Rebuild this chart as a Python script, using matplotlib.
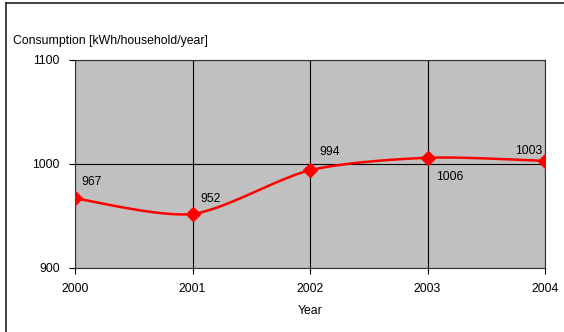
import numpy as np
import matplotlib.pyplot as plt
from matplotlib.lines import Line2D

plt.rcParams['font.family'] = ['Liberation Sans', 'DejaVu Sans']
plt.rcParams['font.size'] = 8.8

years = [2000, 2001, 2002, 2003, 2004]
consumption = [967, 952, 994, 1006, 1003]
# where each value label sits relative to its point (points)
label_offsets = [(12, 12), (13, 11), (14, 13), (16, -14), (-12, 7)]


def smooth(x, y, n=30, tension=0.8):
    # cardinal spline through the points, similar to spreadsheet smoothed lines
    x = np.asarray(x, float)
    y = np.asarray(y, float)
    px = np.concatenate([[x[0]], x, [x[-1]]])
    py = np.concatenate([[y[0]], y, [y[-1]]])
    xs, ys = [], []
    t = np.linspace(0, 1, n)
    h00 = 2 * t ** 3 - 3 * t ** 2 + 1
    h10 = t ** 3 - 2 * t ** 2 + t
    h01 = -2 * t ** 3 + 3 * t ** 2
    h11 = t ** 3 - t ** 2
    for i in range(1, len(px) - 2):
        for p, out in ((px, xs), (py, ys)):
            m1 = tension * 0.5 * (p[i + 1] - p[i - 1])
            m2 = tension * 0.5 * (p[i + 2] - p[i])
            out.extend(h00 * p[i] + h10 * m1 + h01 * p[i + 1] + h11 * m2)
    return np.array(xs), np.array(ys)


fig = plt.figure(figsize=(5.64, 3.32), dpi=100)
ax = fig.add_axes([75 / 564, 64 / 332, 470 / 564, 208 / 332])
ax.set_facecolor('#c0c0c0')

sx, sy = smooth(years, consumption)
ax.plot(sx, sy, color='#ff0000', lw=1.8, zorder=3)
ax.plot(years, consumption, ls='none', marker='D', ms=7, color='#ff0000', zorder=4)

for x, y, off in zip(years, consumption, label_offsets):
    ax.annotate(str(y), (x, y), xytext=off, textcoords='offset points',
                ha='center', va='center')

ax.set_xlim(2000, 2004)
ax.set_ylim(900, 1100)
ax.set_xticks(years)
ax.set_yticks([900, 1000, 1100])
ax.grid(True, color='#000000', lw=0.8)
ax.set_axisbelow(True)
for s in ax.spines.values():
    s.set_color('#303030')
    s.set_linewidth(0.8)
ax.tick_params(direction='out', length=4, width=0.8, pad=7)
ax.set_xlabel('Year', labelpad=7)

fig.text(13 / 564, 1 - 41 / 332, 'Consumption [kWh/household/year]',
         va='center', ha='left')

# frame along the left and top edges
fig.add_artist(Line2D([6 / 564, 6 / 564], [0, 1 - 3 / 332], color='#202020', lw=1.2))
fig.add_artist(Line2D([6 / 564, 1], [1 - 3 / 332, 1 - 3 / 332], color='#202020', lw=1.2))

fig.savefig('out.png', dpi=100)
